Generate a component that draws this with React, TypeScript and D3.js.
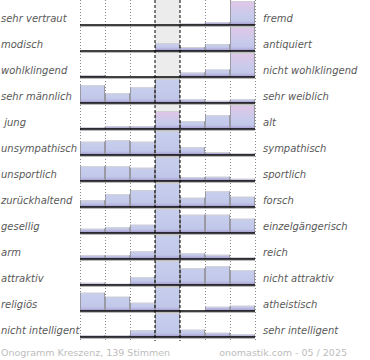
import React from "react";
import * as d3 from "d3";

const leftLabels = ["sehr vertraut", "modisch", "wohlklingend", "sehr männlich", " jung", "unsympathisch", "unsportlich", "zurückhaltend", "gesellig", "arm", "attraktiv", "religiös", "nicht intelligent"];
const rightLabels = ["fremd", "antiquiert", "nicht wohlklingend", "sehr weiblich", "alt", "sympathisch", "sportlich", "forsch", "einzelgängerisch", "reich", "nicht attraktiv", "atheistisch", "sehr intelligent"];
const values: number[][] = [
  [0, 0, 0, 0, 1.5, 3, 24],
  [0, 0, 0, 8, 4, 7, 24],
  [2, 0, 0, 0, 4.5, 7.5, 24],
  [17.7, 9.7, 15.7, 24, 3.7, 2.3, 3.7],
  [1.7, 3, 3, 18, 7.7, 13.7, 24],
  [13.3, 14.7, 13.3, 24, 7.7, 3, 1.7],
  [14.7, 14.7, 13.3, 24, 3.7, 4.3, 2.3],
  [6.7, 12.7, 17, 24, 9.3, 15.7, 10.3],
  [4.3, 5.7, 8.3, 24, 18.3, 18.3, 14.3],
  [3.7, 3.7, 7.7, 24, 5.7, 4.3, 1.7],
  [2.3, 1.3, 7.7, 24, 16.7, 18.7, 14.7],
  [18.3, 14.3, 8.3, 24, 0, 4.3, 5.3],
  [1.7, 1.7, 6.7, 24, 7.3, 4.3, 2.7],
];
// bars whose votes lean "weiblich" (pinkish top)
const pinkBars: [number, number][] = [[0, 6], [1, 6], [2, 6], [4, 3], [4, 6]];
const footerLeft = "Onogramm Kreszenz, 139 Stimmen";
const footerRight = "onomastik.com - 05 / 2025";

const W = 370, H = 360;
const x0 = 80, x1 = 255;
const rowTop = 25, rowStep = 26, barMax = 24;

export default function App() {
  const cols = d3.range(7);
  const x = d3.scaleBand<number>().domain(cols).range([x0, x1]).padding(0);
  const yBase = d3.scaleLinear().domain([0, 12]).range([rowTop, rowTop + 12 * rowStep]);
  const bottom = yBase(12);
  const isPink = (r: number, c: number) => pinkBars.some(([a, b]) => a === r && b === c);
  const font = "DejaVu Sans, sans-serif";
  return (
    <div style={{ position: "absolute", left: 0, top: 0 }}>
      <svg width={W} height={H} style={{ display: "block", background: "#fff" }}>
        <defs>
          <linearGradient id="gBlue" x1="0" y1="0" x2="0" y2="1">
            <stop offset="0" stopColor="#c8cfed" />
            <stop offset="1" stopColor="#bfc5e8" />
          </linearGradient>
          <linearGradient id="gPink" x1="0" y1="0" x2="0" y2="1">
            <stop offset="0" stopColor="#e2c6e7" />
            <stop offset="0.6" stopColor="#c8cbeb" />
            <stop offset="1" stopColor="#bfc5e8" />
          </linearGradient>
          <linearGradient id="gBottom" x1="0" y1="0" x2="0" y2="1">
            <stop offset="0" stopColor="#a89cd0" stopOpacity="0" />
            <stop offset="1" stopColor="#a095cc" stopOpacity="1" />
          </linearGradient>
        </defs>
        <rect x={x(3)} y={0} width={x.bandwidth()} height={bottom} fill="#ececec" />
        {[0, 1, 2, 5, 6, 7].map((i) => (
          <line key={"d" + i} x1={x0 + i * x.bandwidth() + 0.5} x2={x0 + i * x.bandwidth() + 0.5} y1={0} y2={bottom + 4}
            stroke="#888" strokeWidth={1} strokeDasharray="1,2" />
        ))}
        {values.map((row, r) => {
          const h = d3.scaleLinear().domain([0, d3.max(row) as number]).range([0, barMax]);
          const base = yBase(r);
          return (
            <g key={"r" + r}>
              {row.map((v, c) => {
                const bh = h(v);
                if (bh <= 0.2) return null;
                const bx = x(c) as number;
                const bw = x.bandwidth();
                return (
                  <g key={c}>
                    <rect x={bx} y={base - bh} width={bw} height={bh} fill={isPink(r, c) ? "url(#gPink)" : "url(#gBlue)"} />
                    <rect x={bx} y={base - Math.min(bh, 4)} width={bw} height={Math.min(bh, 4)} fill="url(#gBottom)" />
                    <line x1={bx} x2={bx + bw} y1={base - bh + 0.5} y2={base - bh + 0.5} stroke="#cfcfd6" strokeWidth={1} />
                    <line x1={bx + 0.5} x2={bx + 0.5} y1={base - bh} y2={base} stroke="#9a9aa4" strokeWidth={1} />
                    <line x1={bx + bw - 0.5} x2={bx + bw - 0.5} y1={base - bh} y2={base} stroke="#9a9aa4" strokeWidth={1} />
                  </g>
                );
              })}
              <line x1={x0} x2={x1} y1={base + 1.5} y2={base + 1.5} stroke="#bbb" strokeWidth={1} />
              <line x1={x0} x2={x1} y1={base} y2={base} stroke="#000" strokeWidth={1.6} />
            </g>
          );
        })}
        {[3, 4].map((i) => (
          <line key={"c" + i} x1={x0 + i * x.bandwidth()} x2={x0 + i * x.bandwidth()} y1={0} y2={bottom + 4}
            stroke="#000" strokeWidth={1} strokeDasharray="3,2" />
        ))}
        {leftLabels.map((t, r) => (
          <text key={"l" + r} x={1} y={yBase(r) - 3.5} fontFamily={font} fontSize={10} fontStyle="italic" fill="#595959"
            style={{ whiteSpace: "pre" }}>{t}</text>
        ))}
        {rightLabels.map((t, r) => (
          <text key={"rl" + r} x={263} y={yBase(r) - 3.5} fontFamily={font} fontSize={10} fontStyle="italic" fill="#595959">{t}</text>
        ))}
        <text x={1} y={356} fontFamily={font} fontSize={9.5} fill="#bdbdbd">{footerLeft}</text>
        <text x={347} y={356} fontFamily={font} fontSize={9.5} fill="#bdbdbd" textAnchor="end">{footerRight}</text>
      </svg>
    </div>
  );
}
